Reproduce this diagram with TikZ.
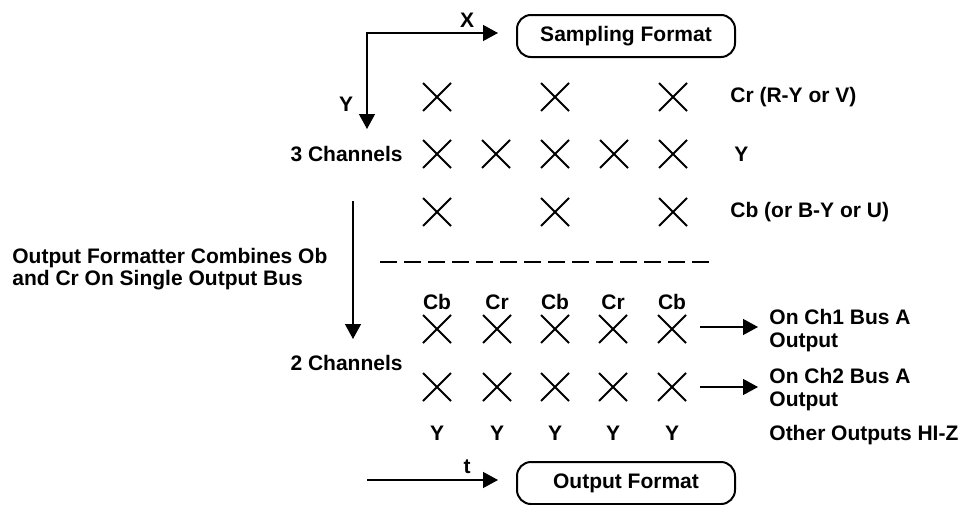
\documentclass[tikz,border=0pt]{standalone}
\usepackage{fontspec}
\setmainfont{Liberation Sans}
\usetikzlibrary{shapes.misc,arrows.meta}

\begin{document}
\begin{tikzpicture}[x=0.5pt,y=-0.5pt]
				\tikzstyle{every node}=[font=\bfseries\fontsize{10.5}{11.5}\selectfont,inner sep=0pt]
				\tikzstyle{smp}=[draw,cross out,line width=1pt,minimum size=13pt]
				\tikzstyle{fmt}=[draw,rounded corners=7pt,line width=1pt,minimum width=109pt,minimum height=21pt]
				\tikzstyle{arr}=[-{Triangle[length=7.5pt,width=8pt]},line width=0.65pt]
				\useasboundingbox (0,0) rectangle (963,504);
				% format boxes
				\node[fmt] (sampfmt) at (626,36) {Sampling Format};
				\node[fmt] (outfmt) at (626,483) {Output Format};
				% axes
				\coordinate (xend) at (498,33);
				\coordinate (yend) at (367,129);
				\draw[{Triangle[length=7.5pt,width=8pt]}-{Triangle[length=7.5pt,width=8pt]},line width=0.65pt] (yend) |- (xend);
				\node (xlbl) at (467,20) {X};
				\node (ylbl) at (346,104) {Y};
				% 3 channel sampling
				\foreach \c/\x in {1/437,3/555,5/673} {
					\node[smp] (cr\c) at (\x,97) {};
					\node[smp] (cb\c) at (\x,212) {};
				}
				\foreach \c/\x in {1/437,2/496,3/555,4/614,5/673}
					\node[smp] (y\c) at (\x,154) {};
				\node[anchor=west] (crlbl) at (730,97) {Cr (R-Y or V)};
				\node[anchor=west] (ylbl2) at (734,154) {Y};
				\node[anchor=west] (cblbl) at (730,212) {Cb (or B-Y or U)};
				\node[anchor=east] (ch3) at (403,154) {3 Channels};
				% divider
				\coordinate (dl) at (380,262);
				\coordinate (dr) at (712,262);
				\draw[line width=0.65pt,dash pattern=on 8.5pt off 3.5pt] (dl) -- (dr);
				\node[anchor=west,align=left,font=\bfseries\fontsize{10.5}{11}\selectfont] (fmtr) at (12,269) {Output Formatter Combines Ob\\and Cr On Single Output Bus};
				\coordinate (dtop) at (353,201);
				\coordinate (dbot) at (353,339);
				\draw[arr] (dtop) -- (dbot);
				% 2 channel output
				\foreach \c/\x/\t in {1/437/Cb,2/497/Cr,3/555/Cb,4/613/Cr,5/672/Cb} {
					\node (top\c) at (\x,302) {\t};
					\node[smp] (oa\c) at (\x,329) {};
					\node[smp] (ob\c) at (\x,387) {};
					\node (bot\c) at (\x,433) {Y};
				}
				\node[anchor=east] (ch2) at (403,363) {2 Channels};
				\node[anchor=west,align=left] (bus1) at (769,331) {On Ch1 Bus A\\Output};
				\node[anchor=west,align=left] (bus2) at (769,390) {On Ch2 Bus A\\Output};
				\node[anchor=west] (hiz) at (769,435) {Other Outputs HI-Z};
				\coordinate (a1) at (700,327);
				\coordinate (a2) at (700,387);
				\draw[arr] (a1) -- ([xshift=-5.5pt]a1 -| bus1.west);
				\draw[arr] (a2) -- ([xshift=-5.5pt]a2 -| bus2.west);
				% time axis
				\coordinate (tl) at (367,480);
				\coordinate (tr) at (498,480);
				\draw[arr] (tl) -- (tr);
				\node (tlbl) at (467,467) {t};
\end{tikzpicture}
\end{document}
